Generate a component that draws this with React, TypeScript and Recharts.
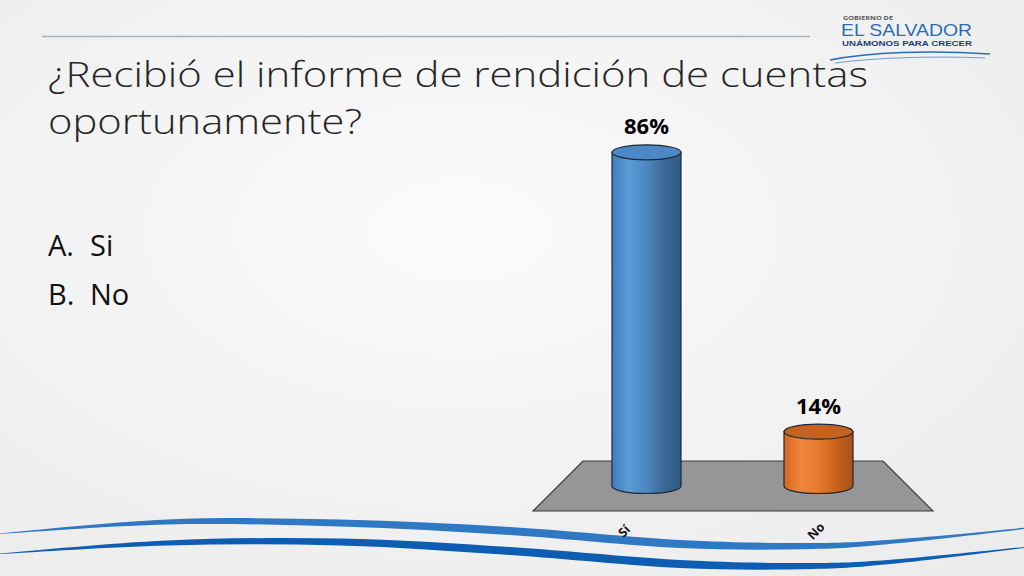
import React from 'react';
import { BarChart, Bar, XAxis, YAxis, LabelList } from 'recharts';

// Survey answers
const categories = ['Sí', 'No'];
const percentages = [86, 14];
const options = ['Si', 'No'];
const optionLetters = ['A.', 'B.'];
const titleLines = ['¿Recibió el informe de rendición de cuentas', 'oportunamente?'];

const data = categories.map((name, i) => ({ name, value: percentages[i] }));

const W = 1024;
const H = 576;
const FONT = '"Open Sans", "Noto Sans", sans-serif';

// plot area (back edge of the 3D floor)
const MARGIN = { top: 98, right: 120, bottom: 60, left: 560 };
const AXIS_H = 30;

const palettes = [
  {
    stops: ['#3f7dc0', '#5b9bd6', '#4c87c2', '#3a6896', '#2f5a84'],
    top: '#4c88c6',
  },
  {
    stops: ['#d4691f', '#f0843a', '#e67a2c', '#c8621d', '#a9511a'],
    top: '#c5621f',
  },
];

function Cylinder(props: any) {
  const { x, y, width, height, index } = props;
  const p = palettes[index % palettes.length];
  const rx = width / 2;
  const ry = 7.5;
  const bottom = y + height;
  const id = `cyl-grad-${index}`;
  return (
    <g>
      <defs>
        <linearGradient id={id} x1="0" y1="0" x2="1" y2="0">
          {p.stops.map((c, i) => (
            <stop key={i} offset={`${(i / (p.stops.length - 1)) * 100}%`} stopColor={c} />
          ))}
        </linearGradient>
      </defs>
      <path
        d={`M${x},${y} L${x},${bottom} A${rx},${ry} 0 0 0 ${x + width},${bottom} L${x + width},${y} Z`}
        fill={`url(#${id})`}
        stroke="#1d2833"
        strokeWidth={1.2}
      />
      <ellipse cx={x + rx} cy={y} rx={rx} ry={ry} fill={p.top} stroke="#1d2833" strokeWidth={1.2} />
    </g>
  );
}

function CategoryTick(props: any) {
  const { x, y, payload, index } = props;
  // the front edge of the floor is wider, so labels spread out a little
  const shift = index === 0 ? -22 : -2;
  return (
    <g transform={`translate(${x + shift},${y + 37})`}>
      <text
        transform="rotate(-45)"
        textAnchor="middle"
        dominantBaseline="central"
        fontFamily={FONT}
        fontWeight={700}
        fontSize={12.5}
        fill="#111"
      >
        {payload.value}
      </text>
    </g>
  );
}

// tapered wave band from centre points [x, y, thickness]
function smooth(pts: number[][], start: boolean) {
  let d = start ? `M${pts[0][0]},${pts[0][1]}` : `L${pts[0][0]},${pts[0][1]}`;
  for (let i = 0; i < pts.length - 1; i++) {
    const p0 = pts[i - 1] || pts[i];
    const p1 = pts[i];
    const p2 = pts[i + 1];
    const p3 = pts[i + 2] || p2;
    const c1 = [p1[0] + (p2[0] - p0[0]) / 6, p1[1] + (p2[1] - p0[1]) / 6];
    const c2 = [p2[0] - (p3[0] - p1[0]) / 6, p2[1] - (p3[1] - p1[1]) / 6];
    d += ` C${c1[0]},${c1[1]} ${c2[0]},${c2[1]} ${p2[0]},${p2[1]}`;
  }
  return d;
}

function band(pts: number[][]) {
  const top = pts.map(([x, y, t]) => [x, y - t / 2]);
  const bot = pts.map(([x, y, t]) => [x, y + t / 2]).reverse();
  return smooth(top, true) + ' ' + smooth(bot, false) + ' Z';
}

const upperWave = [
  [-4, 534, 0.5], [167, 522, 5], [340, 523, 7], [510, 531, 8], [680, 544, 8], [813, 546, 6], [900, 541, 4], [1028, 528, 1],
];
const lowerWave = [
  [-4, 554, 0.5], [167, 543, 5], [340, 542, 7], [510, 551, 8], [680, 564, 8], [813, 566, 6], [900, 561, 4], [1028, 547, 1],
];

function Backdrop() {
  const plotLeft = MARGIN.left;
  const plotRight = W - MARGIN.right;
  const floorTop = 461;
  const floorBottom = 511;
  const floor = `M${plotLeft + 23},${floorTop} L${plotRight - 21},${floorTop} L${plotRight + 29},${floorBottom} L${plotLeft - 27},${floorBottom} Z`;
  return (
    <svg width={W} height={H} style={{ position: 'absolute', left: 0, top: 0 }}>
      <defs>
        <radialGradient id="bg" cx="45%" cy="40%" r="75%">
          <stop offset="0%" stopColor="#fbfbfb" />
          <stop offset="100%" stopColor="#ececec" />
        </radialGradient>
      </defs>
      <rect width={W} height={H} fill="url(#bg)" />
      <line x1={42} y1={36.5} x2={810} y2={36.5} stroke="#a7b3bf" strokeWidth={1.5} />

      {/* logo */}
      <text x={843} y={20} fontFamily={FONT} fontSize={5} fontWeight={700} fill="#555" textLength={50} lengthAdjust="spacingAndGlyphs">
        GOBIERNO DE
      </text>
      <text x={841} y={36} fontFamily='"Liberation Sans", sans-serif' fontSize={17} fill="#2a6db5" textLength={131} lengthAdjust="spacingAndGlyphs">
        EL SALVADOR
      </text>
      <text x={842} y={46} fontFamily='"Liberation Sans", sans-serif' fontSize={7.5} fontWeight={700} fill="#1c3f7a" textLength={130} lengthAdjust="spacingAndGlyphs">
        UNÁMONOS PARA CRECER
      </text>
      <path d="M830,60 C870,52 930,50 990,54" stroke="#2a6db5" strokeWidth={1.5} fill="none" />
      <path d="M835,63 C880,57 940,56 985,58" stroke="#6f9ccc" strokeWidth={1} fill="none" />

      {/* title */}
      {titleLines.map((line, i) => (
        <text
          key={i}
          x={48}
          y={87 + i * 46.5}
          fontFamily={FONT}
          fontWeight={300}
          fontSize={34}
          fill="#262626"
          textLength={i === 0 ? 820 : 314}
          lengthAdjust="spacingAndGlyphs"
        >
          {line}
        </text>
      ))}

      {/* answer list */}
      {options.map((opt, i) => (
        <g key={opt} fontFamily={FONT} fontSize={29} fill="#111">
          <text x={48} y={256 + i * 49}>{optionLetters[i]}</text>
          <text x={90} y={256 + i * 49}>{opt}</text>
        </g>
      ))}

      {/* 3D floor */}
      <path d={floor} fill="#969696" stroke="#3a3a3a" strokeWidth={1.2} />

      {/* footer waves */}
      <path d={band(upperWave)} fill="#2f78c4" />
      <path d={band(lowerWave)} fill="#0d5db3" />
    </svg>
  );
}

export default function App() {
  return (
    <div style={{ position: 'absolute', left: 0, top: 0, width: W, height: H, overflow: 'hidden' }}>
      <Backdrop />
      <div style={{ position: 'absolute', left: 0, top: 0 }}>
        <BarChart width={W} height={H} data={data} margin={MARGIN} barSize={69}>
          <XAxis
            dataKey="name"
            height={AXIS_H}
            axisLine={false}
            tickLine={false}
            tick={<CategoryTick />}
            interval={0}
          />
          <YAxis hide domain={[0, 100]} />
          <Bar dataKey="value" shape={<Cylinder />} isAnimationActive={false}>
            <LabelList
              dataKey="value"
              position="top"
              offset={18}
              formatter={(v: any) => `${v}%`}
              fill="#000"
              fontSize={22}
              fontWeight={700}
              fontFamily={FONT}
            />
          </Bar>
        </BarChart>
      </div>
    </div>
  );
}
